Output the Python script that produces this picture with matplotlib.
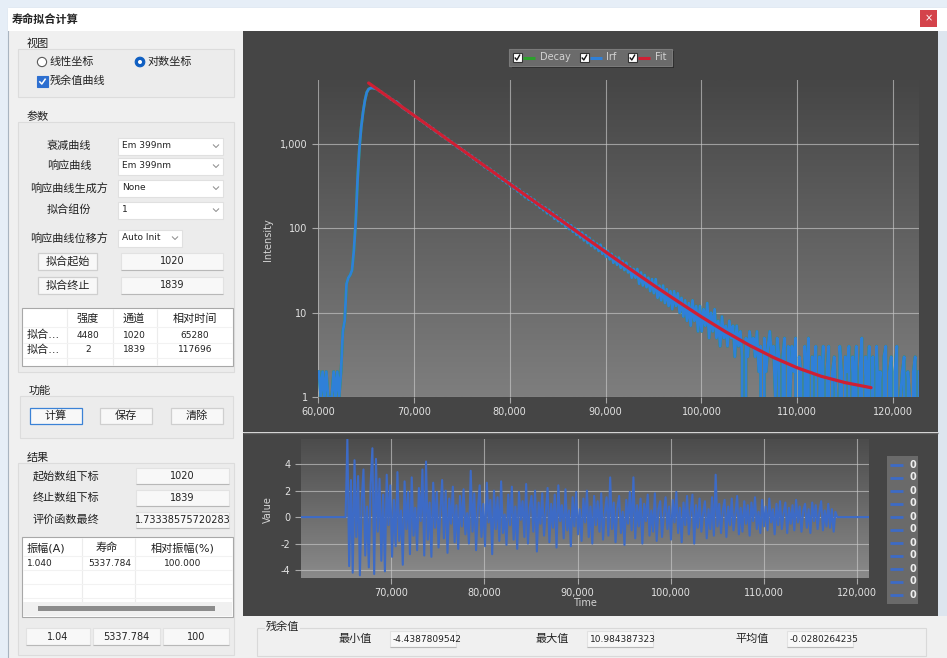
import numpy as np
import matplotlib
matplotlib.use('Agg')
from matplotlib import pyplot as plt
from matplotlib.patches import Rectangle, Circle
from matplotlib.colors import LinearSegmentedColormap
from matplotlib.ticker import FixedLocator, NullLocator, FuncFormatter

plt.rcParams['font.family'] = ['DejaVu Sans', 'Noto Sans CJK SC']
plt.rcParams['axes.unicode_minus'] = False

# 通道 -> 时间: 每通道 64, 每 3 个通道取一个点
CH_FIRST = 939
CH_STEP = 3
CH_TIME = 64
FIT_CH_START = 1020

# Em 399nm 衰减计数
decay_counts = [
    2, 1, 2, 1, 2, 1, 1, 1, 2, 1, 2, 1, 2,
    6, 8, 22, 26, 28, 32, 55, 120, 380, 900, 1600, 2400, 3300, 4100,
    4480, 4600, 4640, 4580, 4510, 4460, 4223, 4155, 3925, 3868,
    3668, 3620, 3396, 3360, 3182, 3194, 3058, 2910, 2742, 2650,
    2543, 2517, 2354, 2348, 2203, 2190, 2047, 2025, 1894, 1881,
    1772, 1763, 1633, 1647, 1526, 1539, 1431, 1372, 1378, 1278,
    1236, 1242, 1148, 1157, 1066, 1071, 982, 1000, 923, 890,
    899, 828, 834, 767, 781, 719, 728, 662, 675, 615,
    633, 577, 580, 530, 547, 497, 509, 464, 474, 426,
    440, 397, 408, 367, 381, 343, 361, 317, 331, 296,
    311, 274, 289, 254, 267, 234, 253, 219, 233, 206,
    219, 192, 201, 176, 187, 164, 177, 151, 166, 143,
    154, 130, 143, 122, 132, 114, 124, 105, 116, 98,
    109, 91, 101, 84, 95, 78, 89, 72, 83, 67,
    77, 62, 71, 58, 66, 54, 64, 50, 58, 46,
    54, 43, 50, 39, 46, 37, 45, 34, 41, 32,
    39, 30, 35, 26, 33, 26, 33, 22, 30, 21,
    28, 20, 26, 18, 25, 17, 25, 15, 21, 14,
    21, 13, 19, 12, 18, 11, 18, 12, 17, 10,
    15, 9, 14, 8, 13, 7, 14, 8, 12, 6,
    12, 6, 11, 7, 13, 5, 10, 6, 11, 5,
    8, 4, 9, 5, 7, 4, 8, 5, 7, 3,
    7, 4, 6, 3, 0, 5, 3, 6, 4, 5,
    3, 6, 2, 4, 0, 5, 2, 4, 6, 3,
    4, 1, 5, 3, 0, 3, 5, 0, 4, 1,
    4, 2, 5, 0, 3, 2, 0, 4, 1, 5,
    0, 3, 2, 4, 0, 3, 1, 4, 0, 2,
    4, 0, 2, 3, 1, 0, 4, 2, 0, 3,
    2, 4, 0, 3, 1, 4, 0, 2, 5, 0,
    3, 1, 4, 0, 3, 0, 4, 1, 2, 0,
    3, 4, 0, 2, 3, 0, 2, 4, 0, 1,
    2, 3, 0, 2, 1, 0, 2, 3, 0, 2,
]

# 拟合曲线 (单指数 + 本底)
fit_time = [65280, 67500, 70000, 72500, 75000, 77500, 80000, 82500, 85000, 87500, 90000,
            92500, 95000, 97500, 100000, 102500, 105000, 107500, 110000, 112500, 115000, 117696]
fit_value = [5300, 3498, 2190, 1372, 859, 538, 337, 211, 133, 83.5, 52.6,
             33.3, 21.2, 13.7, 8.93, 5.96, 4.11, 2.95, 2.22, 1.76, 1.48, 1.29]

# 残余值 (通道 1020 ~ 1839)
residual_value = [
    5.9, -3.7, 2.8, -4.2, 4.3, -1.5, 3.1, -4.4, 1.2, 3.6,
    -2.9, 0.8, -3.8, 2.5, 5.2, -4.3, 4.4, -1.1, 2.9, -3.3,
    1.7, -4.1, 3.2, -0.6, 2.4, -3.0, 1.3, -2.2, 3.4, -1.8,
    0.5, -3.6, 2.7, -0.9, 1.9, -2.8, 3.0, -1.4, 0.7, -2.5,
    2.2, -0.3, 3.6, -2.9, 4.2, -1.7, 1.1, -3.0, 2.6, -0.8,
    1.9, -2.3, 0.4, 2.8, -1.6, 2.0, -2.7, 1.4, -0.5, 2.3,
    -1.9, 0.9, -2.4, 1.6, -0.7, 2.1, -1.3, 0.3, -2.0, 3.5,
    -1.1, 1.8, -2.5, 0.6, 2.4, -1.5, 1.0, -2.2, 2.6, -0.4,
    1.3, -2.8, 2.0, -0.9, 1.5, -1.8, 2.7, -1.2, 0.2, -2.1,
    1.7, -0.6, 2.3, -1.7, 0.8, -2.4, 1.9, -0.2, 1.2, -1.5,
    2.5, -2.0, 0.7, 1.6, -1.1, 2.0, -2.6, 1.1, -0.5, 1.8,
    -1.4, 0.4, 2.2, -1.9, 1.0, -0.8, 1.7, -2.3, 2.4, -0.3,
    0.9, -1.6, 2.1, -1.0, 0.5, -2.2, 1.5, -0.7, 1.9, -1.3,
    0.6, -1.8, 1.4, -0.4, 2.0, -1.5, 0.8, -2.0, 1.6, -0.6,
    1.2, -1.1, 1.8, -1.7, 0.3, 1.5, -1.4, 3.0, -0.9, 1.1,
    -1.9, 0.7, 1.6, -1.2, 0.4, -2.1, 1.3, -0.5, 1.9, -1.0,
    3.0, -1.6, 0.9, -0.7, 1.4, -2.0, 1.0, -0.3, 1.7, -1.4,
    0.5, -1.1, 1.8, -1.8, 0.6, 1.2, -1.5, 0.2, 1.5, -0.9,
    0.8, -1.7, 1.3, -0.4, 1.9, -1.2, 0.7, -1.9, 1.1, -0.6,
    1.6, -1.3, 0.4, 1.7, -2.0, 0.9, -0.8, 1.4, -1.1, 0.3,
    1.2, -1.6, 0.6, -0.9, 1.5, -1.4, 3.2, -0.7, 1.0, -1.2,
    0.5, 1.3, -1.5, 0.8, -0.6, 1.4, -1.0, 0.2, 1.6, -1.3,
    0.7, -1.1, 1.2, -0.5, 0.9, -1.4, 1.1, -0.3, 1.5, -0.9,
    0.4, -1.2, 1.3, -0.7, 0.8, -1.0, 1.4, -0.4, 0.6, -1.3,
    1.0, -0.6, 1.2, -0.9, 0.3, 1.1, -1.2, 0.7, -0.5, 0.9,
    -1.0, 1.3, -0.4, 0.8, -1.1, 0.5, 1.0, -0.8, 0.6, -1.2,
    1.1, -0.3, 0.9, -0.9, 0.4, 1.2, -1.0, 0.5, -0.7, 1.0,
    -0.8, 0.6, -1.1, 0.4,
]

time = CH_TIME * (CH_FIRST + CH_STEP * np.arange(len(decay_counts)))
lead = (FIT_CH_START - CH_FIRST) // CH_STEP
tail = len(decay_counts) - lead - len(residual_value)
residual = np.concatenate([np.zeros(lead), residual_value, np.zeros(tail)])

W, H = 947, 658
fig = plt.figure(figsize=(W / 100, H / 100), dpi=100)
ui = fig.add_axes([0, 0, 1, 1])
ui.set_xlim(0, W)
ui.set_ylim(H, 0)
ui.axis('off')


def rect(x0, y0, x1, y1, fc, ec='none', lw=0.8, z=1):
    p = Rectangle((x0, y0), x1 - x0, y1 - y0, facecolor=fc, edgecolor=ec, linewidth=lw, zorder=z)
    ui.add_patch(p)
    return p


def label(x, y, s, size=8, ha='left', color='#222222', z=5, **kw):
    return ui.text(x, y, s, fontsize=size, ha=ha, va='center', color=color, zorder=z, **kw)


def polyline(xs, ys, color, lw=1.0, z=6):
    ui.plot(xs, ys, color=color, lw=lw, zorder=z, solid_capstyle='butt')


def group(x0, y0, x1, y1, title):
    rect(x0, y0, x1, y1, '#ececec', ec='#dcdcdc')
    label(x0 + 9, y0 - 5, title)


def combo(x0, x1, y, s):
    rect(x0, y - 8.5, x1, y + 8.5, 'white', ec='#e0e0e0', z=2)
    label(x0 + 4, y, s, size=6.5)
    cx = x1 - 7
    polyline([cx - 3, cx, cx + 3], [y - 1.5, y + 1.5, y - 1.5], '#8a8a8a', lw=0.7)


def button(x0, y0, x1, y1, s, ec='#cfcfcf'):
    rect(x0, y0, x1, y1, '#f8f8f8', ec=ec, lw=0.9, z=2)
    label((x0 + x1) / 2, (y0 + y1) / 2, s, ha='center')


def field(x0, y0, x1, y1, s, ha='center', size=7):
    box = rect(x0, y0, x1, y1, '#f8f8f8', ec='#e2e2e2', z=2)
    polyline([x0, x1], [y1, y1], '#b8b8b8', lw=0.8, z=3)
    tx = (x0 + x1) / 2 if ha == 'center' else x0 + 3
    t = label(tx, (y0 + y1) / 2, s, ha=ha, size=size)
    t.set_clip_path(box)


# 窗口与标题栏
rect(0, 0, W, H, '#e6eef7', z=0)
rect(8, 8, W + 2, H + 2, '#f0f0f0', ec='#a9b4c0')
rect(8, 8, W, 31, 'white')
label(12, 19.5, '寿命拟合计算', size=8, fontweight='bold')
rect(920, 10, 937, 27, '#d4434b', z=2)
label(928.5, 18.5, '×', size=7, ha='center', color='white')

# 视图
group(18, 49, 234, 97, '视图')
ui.add_patch(Circle((42, 62), 4.6, fc='white', ec='#5a5a5a', lw=0.8, zorder=3))
label(50, 62, '线性坐标')
ui.add_patch(Circle((140, 62), 4.8, fc='#0f5fc2', ec='#0f5fc2', lw=0.8, zorder=3))
ui.add_patch(Circle((140, 62), 2.0, fc='white', ec='none', zorder=4))
label(148, 62, '对数坐标')
rect(37, 76, 47.5, 86.5, '#2d6fd0', ec='#2d6fd0', z=3)
polyline([39.3, 41.8, 45.6], [81.3, 84, 78.6], 'white', lw=1.1)
label(50, 81, '残余值曲线')

# 参数
group(18, 122, 234, 372, '参数')
for name, value, y in [('衰减曲线', 'Em 399nm', 146), ('响应曲线', 'Em 399nm', 166),
                       ('响应曲线生成方', 'None', 188), ('拟合组份', '1', 210)]:
    label(69, y, name, ha='center')
    combo(118, 223, y, value)
label(69, 238, '响应曲线位移方', ha='center')
combo(118, 182, 238, 'Auto Init')
button(38, 253, 97, 270, '拟合起始')
field(121, 253, 223, 270, '1020')
button(38, 277, 97, 294, '拟合终止')
field(121, 277, 223, 294, '1839')

rect(22, 308, 233, 366, 'white', ec='#a8a8a8', z=2)
for x in [67, 113, 157]:
    polyline([x, x], [309, 365], '#ececec', lw=0.8, z=3)
for y in [327, 343, 358]:
    polyline([23, 232], [y, y], '#f2f2f2', lw=0.8, z=3)
for s, x in [('强度', 88), ('通道', 134), ('相对时间', 195)]:
    label(x, 319, s, ha='center')
for row, y in [(('拟合...', '4480', '1020', '65280'), 335), (('拟合...', '2', '1839', '117696'), 350)]:
    label(27, y, row[0])
    for s, x in zip(row[1:], [88, 134, 195]):
        label(x, y, s, ha='center', size=6.5)

# 功能
group(20, 396, 233, 438, '功能')
button(30, 408, 82, 424, '计算', ec='#3b82d6')
button(100, 408, 152, 424, '保存')
button(171, 408, 223, 424, '清除')

# 结果
group(18, 463, 234, 655, '结果')
for name, value, y in [('起始数组下标', '1020', 476), ('终止数组下标', '1839', 498),
                       ('评价函数最终', '1.73338575720283', 520)]:
    label(33, y, name)
    field(136, y - 8, 229, y + 8, value)

rect(22, 537, 233, 617, 'white', ec='#a8a8a8', z=2)
for x in [82, 135]:
    polyline([x, x], [538, 602], '#ececec', lw=0.8, z=3)
for y in [556, 570, 584, 598]:
    polyline([23, 232], [y, y], '#f2f2f2', lw=0.8, z=3)
label(27, 548, '振幅(A)')
label(107, 548, '寿命', ha='center')
label(183, 548, '相对振幅(%)', ha='center')
label(27, 563, '1.040', size=6.5)
label(110, 563, '5337.784', ha='center', size=6.5)
label(183, 563, '100.000', ha='center', size=6.5)
rect(23, 602, 232, 616, '#f0f0f0', z=3)
rect(38, 606, 215, 611, '#8c8c8c', z=4)

field(26, 628, 90, 645, '1.04')
field(93, 628, 160, 645, '5337.784')
field(163, 628, 229, 645, '100')

# 图表区
rect(243, 31, 938, 432, '#454545', z=1)
rect(243, 433, 938, 616, '#454545', z=1)
polyline([243, 938], [432.5, 432.5], '#626262', lw=1.0, z=2)
rect(938, 31, W, 616, '#dde5ee', z=1)

# 残余值统计
rect(243, 616, W, H, '#f0f0f0', z=1)
rect(257, 628, 926, 656, '#f0f0f0', ec='#d9d9d9', z=2)
label(266, 627, '残余值', z=6, bbox=dict(fc='#f0f0f0', ec='none', pad=0.5))
for name, value, x0 in [('最小值', '-4.4387809542', 390), ('最大值', '10.984387323', 587),
                        ('平均值', '-0.0280264235', 787)]:
    label(x0 - 18, 639, name, ha='right')
    field(x0, 631, x0 + 66, 647, value, ha='left', size=6.5)


def px_box(x0, y0, x1, y1):
    return [x0 / W, 1 - y1 / H, (x1 - x0) / W, (y1 - y0) / H]


def shaded(box, top, bottom):
    g = fig.add_axes(box)
    cmap = LinearSegmentedColormap.from_list('shade', [top, bottom])
    g.imshow(np.linspace(0, 1, 128).reshape(-1, 1), cmap=cmap, aspect='auto', extent=[0, 1, 0, 1])
    g.axis('off')


def style(ax):
    ax.set_facecolor('none')
    for sp in ax.spines.values():
        sp.set_visible(False)
    ax.grid(True, color='#c8c8c8', lw=0.8, alpha=0.65)
    ax.tick_params(colors='#a8a8a8', labelcolor='#e2e2e2', labelsize=7, length=4, width=0.8)
    ax.xaxis.set_major_formatter(FuncFormatter(lambda v, p: f'{v:,.0f}'))


comma = FuncFormatter(lambda v, p: f'{v:,.0f}')

# 衰减曲线 (对数坐标)
main_box = px_box(318, 80, 919, 397)
shaded(main_box, '#464646', '#7e7e7e')
ax = fig.add_axes(main_box)
style(ax)
ax.set_yscale('log', nonpositive='clip')
ax.plot(time, decay_counts, color='#2ca02c', lw=2.0)
ax.plot(time, decay_counts, color='#2f80d8', lw=2.0)
ax.plot(fit_time, fit_value, color='#cf1f33', lw=2.3, solid_capstyle='round')
ax.set_xlim(60000, 122700)
ax.set_ylim(1, 5750)
ax.xaxis.set_major_locator(FixedLocator(range(60000, 120001, 10000)))
ax.yaxis.set_major_locator(FixedLocator([1, 10, 100, 1000]))
ax.yaxis.set_minor_locator(NullLocator())
ax.yaxis.set_major_formatter(comma)
label(268, 240, 'Intensity', size=7, ha='center', color='#d4d4d4', rotation=90)

# 图例
rect(512, 51, 674, 68, '#2c2c2c', z=2)
rect(509, 49, 672, 66, '#6b6b6b', ec='#7a7a7a', z=3)
for cx, color, name, tx in [(513, '#2ca02c', 'Decay', 540), (580, '#2f80d8', 'Irf', 606), (628, '#cf1f33', 'Fit', 655)]:
    rect(cx, 53, cx + 8.5, 61.5, 'white', ec='#333333', z=4)
    polyline([cx + 1.8, cx + 3.8, cx + 7], [57.5, 60, 54.5], '#111111', lw=1.0)
    polyline([cx + 9.5, cx + 22], [57.5, 57.5], color, lw=2.2)
    label(tx, 57.5, name, size=7, color='#d2d2d2')

# 残余值曲线
res_box = px_box(301, 439, 869, 578)
shaded(res_box, '#4c4c4c', '#8a8a8a')
rx = fig.add_axes(res_box)
style(rx)
rx.plot(time, residual, color='#3d6bc6', lw=1.5)
rx.set_xlim(60300, 121300)
rx.set_ylim(-4.6, 5.9)
rx.xaxis.set_major_locator(FixedLocator(range(70000, 120001, 10000)))
rx.yaxis.set_major_locator(FixedLocator([-4, -2, 0, 2, 4]))
label(268, 510, 'Value', size=7, ha='center', color='#d4d4d4', rotation=90)
label(585, 603, 'Time', size=7, ha='center', color='#d4d4d4')

rect(887, 456, 918, 604, '#6a6a6a', z=2)
for j in range(11):
    y = 464.5 + 13 * j
    polyline([890, 903], [y, y], '#3d6bc6', lw=2.0)
    label(910, y, '0', size=7, color='#eeeeee', fontweight='bold')

fig.savefig('out.png', dpi=100)
